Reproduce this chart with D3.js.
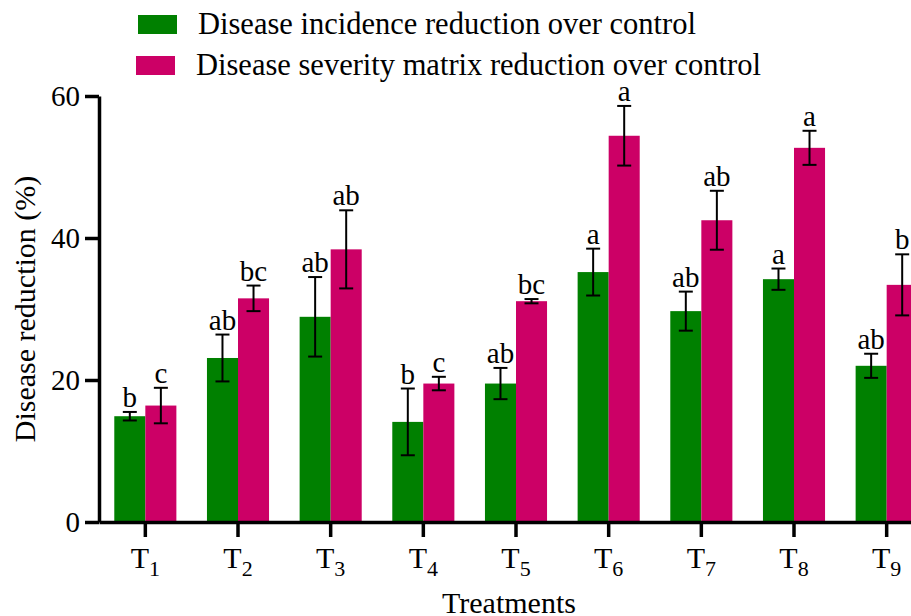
<!DOCTYPE html>
<html>
<head>
<meta charset="utf-8">
<script src="https://cdn.jsdelivr.net/npm/d3@7/dist/d3.min.js"></script>
<style>
  html, body { margin: 0; padding: 0; background: #fff; }
  svg { display: block; font-family: "Liberation Serif", "Times New Roman", serif; }
</style>
</head>
<body>
<svg id="chart" width="911" height="616"></svg>
<script>
// ---- Data ----
const treatments = ["1", "2", "3", "4", "5", "6", "7", "8", "9"];
const seriesNames = ["Disease incidence reduction over control",
                     "Disease severity matrix reduction over control"];
const incidence    = [14.9, 23.1, 28.9, 14.1, 19.5, 35.2, 29.7, 34.2, 22.0];
const incidenceErr = [0.6, 3.3, 5.6, 4.7, 2.2, 3.3, 2.75, 1.5, 1.7];
const incidenceLetters = ["b", "ab", "ab", "b", "ab", "a", "ab", "a", "ab"];
const severity     = [16.4, 31.5, 38.4, 19.5, 31.1, 54.4, 42.5, 52.7, 33.4];
const severityErr  = [2.5, 1.8, 5.5, 0.95, 0.3, 4.2, 4.15, 2.4, 4.3];
const severityLetters = ["c", "bc", "ab", "c", "bc", "a", "ab", "a", "b"];
const yTicks = [0, 20, 40, 60];
const colors = ["#008000", "#CC0066"];

// ---- Layout ----
const svg = d3.select("#chart");
const x0 = d3.scaleBand().domain(treatments).range([99, 933]).paddingInner(0.33).paddingOuter(0.165);
const x1 = d3.scaleBand().domain([0, 1]).range([0, x0.bandwidth()]);
const y = d3.scaleLinear().domain([0, 60]).range([522, 96]);

const series = [
  { vals: incidence, err: incidenceErr, letters: incidenceLetters },
  { vals: severity, err: severityErr, letters: severityLetters }
];

const g = svg.append("g");
series.forEach((s, si) => {
  const rows = treatments.map((t, i) => ({ t, v: s.vals[i], e: s.err[i], l: s.letters[i] }));
  const grp = g.append("g");
  grp.selectAll("rect").data(rows).join("rect")
    .attr("x", d => x0(d.t) + x1(si))
    .attr("y", d => y(d.v))
    .attr("width", x1.bandwidth())
    .attr("height", d => y(0) - y(d.v))
    .attr("fill", colors[si]);
  const cx = d => x0(d.t) + x1(si) + x1.bandwidth() / 2;
  const eb = grp.selectAll("g.err").data(rows).join("g").attr("class", "err")
    .attr("stroke", "#000").attr("stroke-width", 2);
  eb.append("line").attr("x1", cx).attr("x2", cx).attr("y1", d => y(d.v + d.e)).attr("y2", d => y(d.v - d.e));
  eb.append("line").attr("x1", d => cx(d) - 7).attr("x2", d => cx(d) + 7).attr("y1", d => y(d.v + d.e)).attr("y2", d => y(d.v + d.e));
  eb.append("line").attr("x1", d => cx(d) - 7).attr("x2", d => cx(d) + 7).attr("y1", d => y(d.v - d.e)).attr("y2", d => y(d.v - d.e));
  grp.selectAll("text.lbl").data(rows).join("text").attr("class", "lbl")
    .attr("x", cx).attr("y", d => y(d.v + d.e) - 5)
    .attr("text-anchor", "middle").attr("font-size", 29).attr("fill", "#000")
    .text(d => d.l);
});

// ---- Axes ----
const yAxis = svg.append("g").attr("transform", "translate(99,0)")
  .call(d3.axisLeft(y).tickValues(yTicks).tickSize(14).tickPadding(5).tickSizeOuter(0));
yAxis.select(".domain").attr("stroke-width", 3.5);
yAxis.selectAll(".tick line").attr("stroke-width", 3.5);
yAxis.selectAll(".tick text").attr("font-size", 29).attr("font-family", "Liberation Serif").attr("fill", "#000");

const xAxis = svg.append("g").attr("transform", "translate(0,522)")
  .call(d3.axisBottom(x0).tickSize(15).tickSizeOuter(0).tickFormat(""));
xAxis.select(".domain").attr("stroke-width", 3.5);
xAxis.selectAll(".tick line").attr("stroke-width", 3.5);
xAxis.selectAll(".tick").append("text")
  .attr("y", 46).attr("text-anchor", "middle").attr("fill", "#000")
  .attr("font-size", 30).attr("font-family", "Liberation Serif")
  .each(function(d) {
    const t = d3.select(this);
    t.append("tspan").text("T");
    t.append("tspan").attr("font-size", 22).attr("dy", 8).text(d);
  });

svg.append("text").attr("x", 509).attr("y", 613).attr("text-anchor", "middle")
  .attr("font-size", 30).text("Treatments");
svg.append("text").attr("transform", "translate(35,309) rotate(-90)").attr("text-anchor", "middle")
  .attr("font-size", 30).text("Disease reduction (%)");

// ---- Legend ----
const legend = svg.append("g");
const legY = [15, 56];
const legX = [138, 136];
const txtX = [198, 196];
seriesNames.forEach((n, i) => {
  legend.append("rect").attr("x", legX[i]).attr("y", legY[i]).attr("width", 39).attr("height", 19).attr("fill", colors[i]);
  legend.append("text").attr("x", txtX[i]).attr("y", legY[i] + 19).attr("font-size", 30.5).text(n);
});
</script>
</body>
</html>
